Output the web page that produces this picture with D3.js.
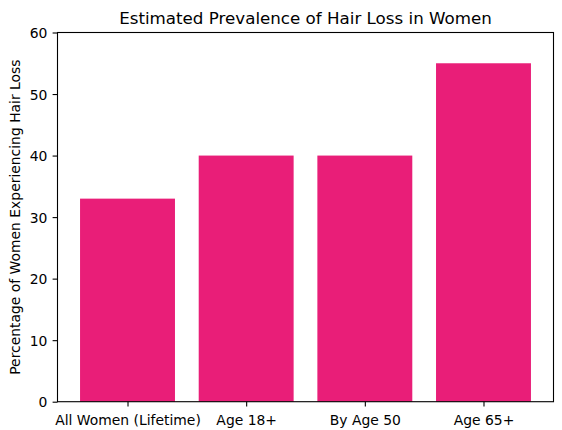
<!DOCTYPE html>
<html><head><meta charset="utf-8">
<script src="https://cdn.jsdelivr.net/npm/d3@7"></script>
<style>body{margin:0;background:#fff}svg{display:block}text{font-family:"DejaVu Sans",sans-serif}</style>
</head><body>
<script>
const categories = ["All Women (Lifetime)", "Age 18+", "By Age 50", "Age 65+"];
const values = [33, 40, 40, 55];
const yTicks = [0, 10, 20, 30, 40, 50, 60];
const title = "Estimated Prevalence of Hair Loss in Women";
const yLabel = "Percentage of Women Experiencing Hair Loss";

const W = 562, H = 430;
const L = 57.5, R = 553.5, T = 32.5, B = 401.7;
const svg = d3.select("body").append("svg").attr("width", W).attr("height", H);

const x = d3.scaleLinear().domain([-0.59, 3.59]).range([L, R]);
const y = d3.scaleLinear().domain([0, 60]).range([B, T]);

svg.selectAll("rect.bar").data(values).enter().append("rect")
  .attr("class", "bar")
  .attr("x", (d, i) => x(i - 0.4))
  .attr("width", (d, i) => x(i + 0.4) - x(i - 0.4))
  .attr("y", d => y(d))
  .attr("height", d => y(0) - y(d))
  .attr("fill", "#e91e78");

const fs = 13.9;
const yAxis = d3.axisLeft(y).tickValues(yTicks).tickSize(4.9).tickPadding(5.3);
const gy = svg.append("g").attr("transform", `translate(${L},0)`).call(yAxis);
gy.select(".domain").remove();
gy.selectAll("text").attr("font-size", fs).attr("font-family", "DejaVu Sans").attr("fill", "#000").attr("dy", "0.36em");
gy.selectAll("line").attr("stroke", "#000").attr("stroke-width", 1.1);

const xAxis = d3.axisBottom(x).tickValues(d3.range(categories.length)).tickFormat(i => categories[i]).tickSize(4.9).tickPadding(3.5);
const gx = svg.append("g").attr("transform", `translate(0,${B})`).call(xAxis);
gx.select(".domain").remove();
gx.selectAll("text").attr("font-size", fs).attr("font-family", "DejaVu Sans").attr("fill", "#000").attr("dy", "1.08em");
gx.selectAll("line").attr("stroke", "#000").attr("stroke-width", 1.1);

svg.append("rect").attr("x", L).attr("y", T).attr("width", R - L).attr("height", B - T)
  .attr("fill", "none").attr("stroke", "#000").attr("stroke-width", 1.1);

svg.append("text").attr("x", (L + R) / 2).attr("y", 24).attr("text-anchor", "middle")
  .attr("font-size", 16.7).text(title);

svg.append("text").attr("transform", `translate(20,${(T + B) / 2}) rotate(-90)`)
  .attr("text-anchor", "middle").attr("font-size", fs).text(yLabel);
</script>
</body></html>
